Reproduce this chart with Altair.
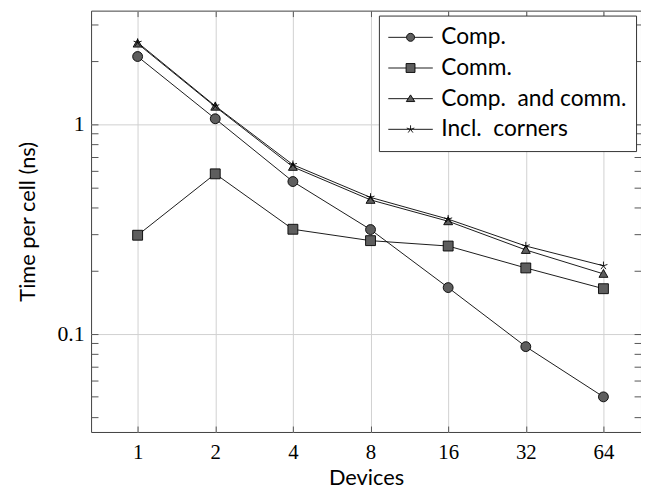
import altair as alt
import pandas as pd

devices = [1, 2, 4, 8, 16, 32, 64]
series_names = ["Comp.", "Comm.", "Comp. and comm.", "Incl. corners"]
comp = [2.10, 1.06, 0.532, 0.314, 0.166, 0.0868, 0.0500]
comm = [0.295, 0.579, 0.315, 0.278, 0.262, 0.206, 0.164]
comp_comm = [2.42, 1.21, 0.625, 0.435, 0.344, 0.251, 0.193]
incl_corners = [2.45, 1.22, 0.64, 0.447, 0.352, 0.262, 0.211]
y_major = [0.1, 1]
y_ticks_all = [0.04, 0.05, 0.06, 0.07, 0.08, 0.09, 0.1, 0.2, 0.3, 0.4, 0.5,
               0.6, 0.7, 0.8, 0.9, 1, 2, 3]

rows = []
for name, vals in zip(series_names, [comp, comm, comp_comm, incl_corners]):
    for d, v in zip(devices, vals):
        rows.append({"devices": d, "time": v, "series": name})
df = pd.DataFrame(rows)

xscale = alt.Scale(type="log", base=2, domain=[0.660, 89.5], nice=False)
yscale = alt.Scale(type="log", domain=[0.034, 3.476], nice=False)

serif = "Liberation Serif"
sans = "Lato"

marker_paths = [
    "circle",
    "square",
    "M0,-0.9L0.9,0.7L-0.9,0.7Z",
    "M0,0L0,-0.85M0,0L0.808,-0.263M0,0L0.5,0.688M0,0L-0.5,0.688M0,0L-0.808,-0.263",
]
fill_range = ["#5e5e5e", "#5e5e5e", "#5e5e5e", "transparent"]
stroke_range = ["black", "black", "black", "black"]

legend_paths = [
    "M-1,0L-0.18,0M0.18,0L1,0M0.18,0A0.18,0.18 0 1,1 -0.18,0A0.18,0.18 0 1,1 0.18,0Z",
    "M-1,0L-0.2,0M0.2,0L1,0M-0.2,-0.2L0.2,-0.2L0.2,0.2L-0.2,0.2Z",
    "M-1,0L-0.1,0M0.1,0L1,0M0,-0.17L0.19,0.13L-0.19,0.13Z",
    "M-1,0L1,0M0,0L0,-0.18M0,0L0.171,-0.056M0,0L0.106,0.146M0,0L-0.106,0.146M0,0L-0.171,-0.056",
]

legend_def = alt.Legend(
    orient="none", legendX=291, legendY=5, title=None,
    labelFont=sans, labelFontSize=23, labelColor="black",
    labelExpr="replace(datum.label, '. ', '.\u00a0 ') + '\u00a0\u00a0'",
    labelLimit=400, symbolSize=2025, symbolStrokeWidth=0.9,
    symbolStrokeColor="black", symbolOpacity=1,
    padding=9, rowPadding=5, labelOffset=8, clipHeight=26,
    strokeColor="#333333", fillColor="white",
)

base = alt.Chart(df)

lines = base.mark_line(color="black", strokeWidth=0.9).encode(
    x=alt.X("devices:Q", scale=xscale,
            axis=alt.Axis(orient="bottom", values=devices, format="d", grid=True,
                          ticks=False, domain=False, labelFont=serif, labelFontSize=21,
                          labelPadding=10, title="Devices", titleFont=sans,
                          titleFontSize=22, titleFontWeight="normal", titlePadding=5)),
    y=alt.Y("time:Q", scale=yscale,
            axis=alt.Axis(orient="left", values=y_major, format="~g", grid=True,
                          ticks=False, domain=False, labelFont=serif, labelFontSize=22,
                          labelPadding=7, title="Time per cell (ns)", titleFont=sans,
                          titleFontSize=22, titleFontWeight="normal", titlePadding=18)),
    detail="series:N",
)

points = base.mark_point(size=100, strokeWidth=0.9, opacity=1, stroke="black", filled=True).encode(
    x=alt.X("devices:Q", scale=xscale,
            axis=alt.Axis(orient="bottom", values=devices, offset=-6, tickSize=6,
                          labels=False, domain=False, grid=False, title=None)),
    y=alt.Y("time:Q", scale=yscale,
            axis=alt.Axis(orient="left", values=y_ticks_all, offset=-7, tickSize=7,
                          labels=False, domain=False, grid=False, title=None)),
    shape=alt.Shape("series:N", scale=alt.Scale(domain=series_names, range=marker_paths),
                    legend=None),
    fill=alt.Fill("series:N", scale=alt.Scale(domain=series_names, range=fill_range),
                  legend=None),
)

legend_layer = base.mark_point(size=0, strokeWidth=0.9, filled=True).encode(
    x=alt.X("devices:Q", scale=xscale,
            axis=alt.Axis(orient="top", values=devices, offset=-6, tickSize=6,
                          labels=False, domain=False, grid=False, title=None)),
    y=alt.Y("time:Q", scale=yscale,
            axis=alt.Axis(orient="right", values=y_ticks_all, offset=-7, tickSize=7,
                          labels=False, domain=False, grid=False, title=None)),
    shape=alt.Shape("series:N", scale=alt.Scale(domain=series_names, range=legend_paths),
                    legend=legend_def),
    fill=alt.Fill("series:N", scale=alt.Scale(domain=series_names, range=fill_range),
                  legend=legend_def),
    stroke=alt.Stroke("series:N", scale=alt.Scale(domain=series_names, range=stroke_range),
                      legend=legend_def),
)

chart = alt.layer(lines, points, legend_layer).resolve_axis(
    x="independent", y="independent"
).resolve_scale(
    shape="independent", fill="independent", stroke="independent"
).properties(
    width=556, height=426,
    padding={"left": 84, "top": 0, "right": 0, "bottom": 56},
    autosize=alt.AutoSizeParams(type="none"),
).configure_view(
    stroke="#404040", strokeWidth=1
).configure_axis(
    tickColor="#555555", tickWidth=1, gridColor="#d0d0d0", gridWidth=1,
    labelColor="black", titleColor="black",
)

chart.save("out.html", embed_options={"renderer": "svg", "actions": False})
